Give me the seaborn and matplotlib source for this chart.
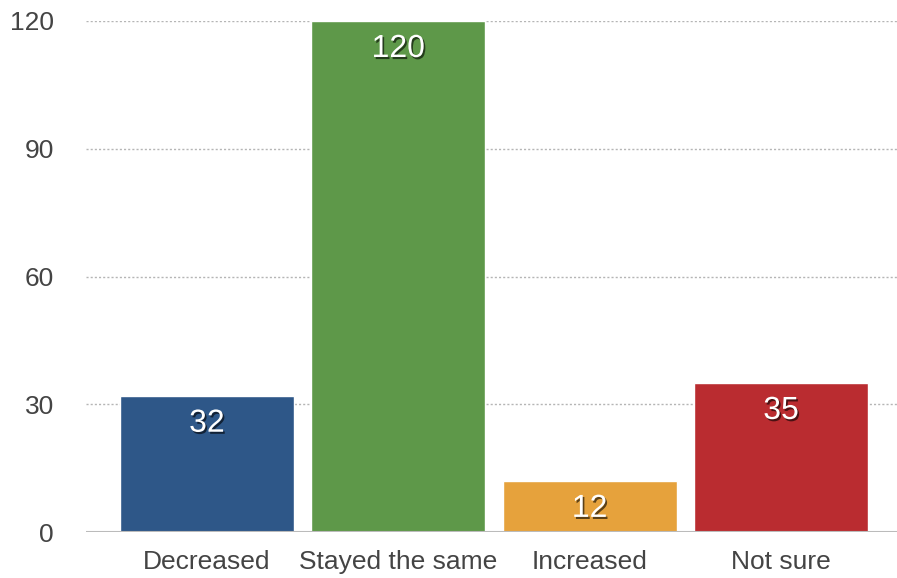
import matplotlib
matplotlib.use("Agg")
import matplotlib.pyplot as plt
import matplotlib.patheffects as pe
import seaborn as sns
import pandas as pd

categories = ["Decreased", "Stayed the same", "Increased", "Not sure"]
values = [32, 120, 12, 35]
colors = ["#2E5788", "#5E9849", "#E6A23C", "#BA2C30"]
yticks = [0, 30, 60, 90, 120]

sns.set_theme(style="white")
plt.rcParams["font.family"] = ["Liberation Sans", "DejaVu Sans"]

df = pd.DataFrame({"category": categories, "value": values})

fig = plt.figure(figsize=(8.97, 5.78), dpi=100)
ax = fig.add_axes([86/897, 1 - 532/578, 1 - 86/897, (532 - 21)/578])

sns.barplot(data=df, x="category", y="value", hue="category", palette=colors,
            order=categories, hue_order=categories, width=0.91, legend=False,
            saturation=1, ax=ax, zorder=3)

ax.set_ylim(0, 120)
ax.set_xlim(-0.632, 3.606)
ax.set_yticks(yticks)
ax.set_yticklabels([str(t) for t in yticks])
for t in yticks[1:]:
    ax.axhline(t, color="#B5B5B5", lw=1.0, ls=(0, (1.5, 1.5)), zorder=1)
ax.axhline(0, color="#BBBBBB", lw=1.5, zorder=4)

for s in ax.spines.values():
    s.set_visible(False)
ax.tick_params(axis="y", length=0, pad=23, labelsize=19, labelcolor="#444444")
ax.tick_params(axis="x", length=0, pad=13, labelsize=19, labelcolor="#444444")
ax.set_xlabel("")
ax.set_ylabel("")

for i, v in enumerate(values):
    ax.annotate(str(v), xy=(i, v), xytext=(0, -28), textcoords="offset pixels",
                ha="center", va="center", color="white", fontsize=23,
                zorder=5,
                path_effects=[pe.SimplePatchShadow(offset=(1.2, -1.5), shadow_rgbFace="black", alpha=0.6),
                              pe.Normal()])

fig.savefig("out.png", dpi=100)
